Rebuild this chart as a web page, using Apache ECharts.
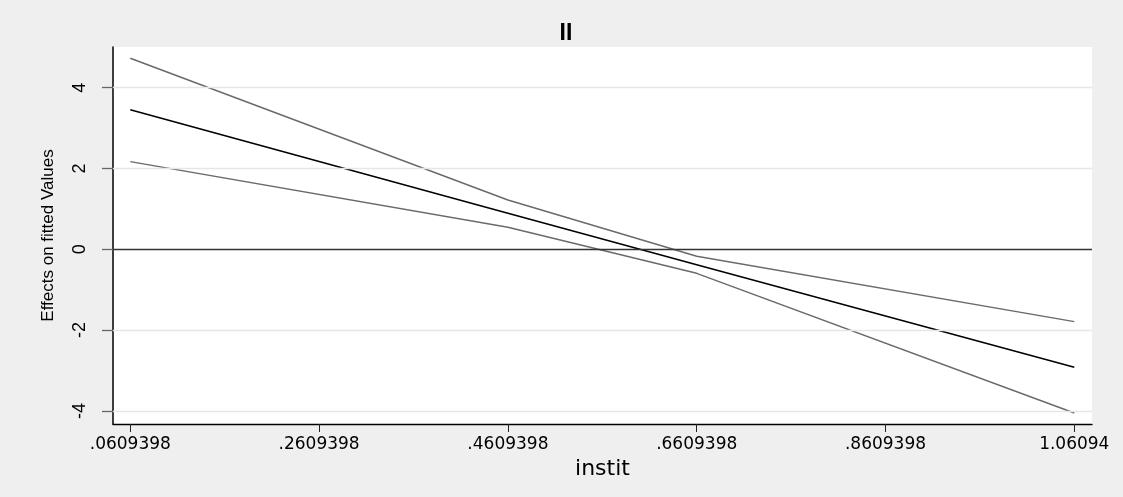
<!DOCTYPE html>
<html><head><meta charset="utf-8">
<script src="https://cdn.jsdelivr.net/npm/echarts@6/dist/echarts.min.js"></script>
<style>html,body{margin:0;padding:0;background:#efefef}#c{width:1123px;height:497px}</style>
</head><body><div id="c"></div>
<script>
const xValues = [0.0609398, 0.4609398, 0.6609398, 1.0609398];
const upperCI = [4.73, 1.22, -0.17, -1.79];
const effect  = [3.455, 0.89, -0.38, -2.92];
const lowerCI = [2.17, 0.545, -0.595, -4.05];
const xTicks = [0.0609398, 0.2609398, 0.4609398, 0.6609398, 0.8609398, 1.0609398];
const xTickLabels = ['.0609398', '.2609398', '.4609398', '.6609398', '.8609398', '1.06094'];
const yTicks = [-4, -2, 0, 2, 4];
const gridY = [-4, -2, 2, 4];

const pairs = a => xValues.map((x, i) => [x, a[i]]);
const lab = {};
xTicks.forEach((t, i) => lab[t.toFixed(7)] = xTickLabels[i]);

const chart = echarts.init(document.getElementById('c'));
chart.setOption({
  backgroundColor: '#efefef',
  animation: false,
  title: { text: 'II', left: 561, top: 17, textAlign: 'center',
    textStyle: { fontFamily: 'Liberation Sans', fontSize: 23, fontWeight: 'bold', color: '#000' } },
  grid: { left: 113, right: 31, top: 47, bottom: 73, show: true, backgroundColor: '#fff', borderWidth: 0 },
  xAxis: {
    type: 'value', min: 0.0426, max: 1.0797,
    name: 'instit', nameLocation: 'middle', nameGap: 29,
    nameTextStyle: { fontFamily: 'DejaVu Sans', fontSize: 22, color: '#000' },
    axisLine: { show: true, onZero: false, lineStyle: { color: '#000', width: 1.3 } },
    axisTick: { show: true, customValues: xTicks, length: 8, lineStyle: { color: '#222' } },
    axisLabel: { customValues: xTicks, margin: 12, fontFamily: 'DejaVu Sans', fontSize: 17, color: '#000',
      formatter: v => lab[v.toFixed(7)] || '' },
    splitLine: { show: false }
  },
  yAxis: {
    type: 'value', min: -4.324, max: 5.007,
    name: 'Effects on fitted Values', nameLocation: 'middle', nameGap: 56, nameRotate: 90,
    nameTextStyle: { fontFamily: 'Liberation Sans', fontSize: 17, color: '#000' },
    axisLine: { show: true, onZero: false, lineStyle: { color: '#000', width: 1.5 } },
    axisTick: { show: true, customValues: yTicks, length: 11, lineStyle: { color: '#666', width: 1.3 } },
    axisLabel: { customValues: yTicks, rotate: 90, margin: 24, fontFamily: 'Liberation Sans', fontSize: 18, color: '#000' },
    splitLine: { show: false }
  },
  series: [
    { type: 'line', data: [], silent: true,
      markLine: { silent: true, symbol: 'none', label: { show: false },
        lineStyle: { type: 'solid', color: '#e6e6e6', width: 1.3 },
        data: gridY.map(v => ({ yAxis: v })).concat([{ yAxis: 0, lineStyle: { color: '#333', width: 1.3 } }]) } },
    { type: 'line', data: pairs(upperCI), symbol: 'none', lineStyle: { color: '#6a6a6a', width: 1.5 } },
    { type: 'line', data: pairs(effect), symbol: 'none', lineStyle: { color: '#000', width: 1.6 } },
    { type: 'line', data: pairs(lowerCI), symbol: 'none', lineStyle: { color: '#6a6a6a', width: 1.5 } }
  ]
});
</script></body></html>
